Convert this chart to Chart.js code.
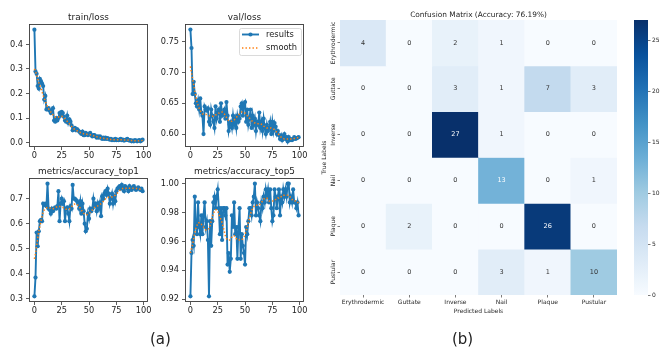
<!DOCTYPE html>
<html><head><meta charset="utf-8">
<script src="https://cdn.jsdelivr.net/npm/chart.js@4.4.0/dist/chart.umd.min.js"></script>
<style>
html,body{margin:0;padding:0;background:#fff;}
#wrap{position:relative;width:662px;height:349px;overflow:hidden;background:#fff;}
canvas{position:absolute;}
.cap{position:absolute;font-family:"DejaVu Sans";font-size:15px;color:#222;line-height:1;}
</style></head><body><div id="wrap">
<canvas id="c1"></canvas><canvas id="c2"></canvas><canvas id="c3"></canvas><canvas id="c4"></canvas>
<canvas id="cm"></canvas><canvas id="cb"></canvas>
<div class="cap" style="left:150px;top:332px">(a)</div>
<div class="cap" style="left:452px;top:332px">(b)</div>
</div>
<script>
// ---------------- data ----------------
const epochs = Array.from({length:100},(_,i)=>i);
const xTickLabels = ['0','25','50','75','100'];

const trainLoss = [0.46,0.29,0.28,0.23,0.22,0.26,0.25,0.24,0.23,0.175,
0.19,0.135,0.135,0.14,0.13,0.12,0.13,0.14,0.09,0.085,
0.10,0.09,0.10,0.12,0.11,0.125,0.12,0.105,0.09,0.085,
0.11,0.08,0.095,0.085,0.07,0.05,0.055,0.06,0.05,0.055,
0.05,0.045,0.04,0.035,0.045,0.03,0.03,0.04,0.035,0.03,
0.035,0.04,0.03,0.025,0.03,0.03,0.025,0.02,0.025,0.02,
0.025,0.02,0.015,0.02,0.015,0.02,0.015,0.018,0.015,0.012,
0.015,0.01,0.012,0.01,0.015,0.01,0.012,0.01,0.012,0.015,
0.01,0.012,0.008,0.01,0.012,0.015,0.01,0.008,0.01,0.005,
0.008,0.005,0.01,0.008,0.005,0.008,0.01,0.005,0.008,0.012];
const trainLossSmooth = [0.30,0.29,0.275,0.26,0.245,0.232,0.22,0.207,0.193,0.18,
0.167,0.156,0.146,0.138,0.131,0.125,0.119,0.113,0.108,0.104,
0.102,0.102,0.104,0.106,0.107,0.107,0.105,0.101,0.097,0.092,
0.087,0.082,0.077,0.071,0.066,0.061,0.057,0.054,0.051,0.048,
0.046,0.043,0.041,0.039,0.037,0.036,0.035,0.034,0.034,0.033,
0.033,0.032,0.031,0.029,0.028,0.027,0.025,0.024,0.022,0.021,
0.020,0.019,0.018,0.018,0.017,0.017,0.016,0.015,0.014,0.013,
0.013,0.012,0.012,0.012,0.012,0.012,0.012,0.012,0.012,0.012,
0.012,0.011,0.011,0.011,0.011,0.011,0.010,0.009,0.008,0.008,
0.007,0.007,0.007,0.007,0.007,0.007,0.008,0.008,0.008,0.009];
const trainLossTicks = ['0.0','0.1','0.2','0.3','0.4'];

const valLoss = [0.770,0.740,0.665,0.685,0.665,0.650,0.645,0.655,0.640,0.658,
0.635,0.630,0.600,0.645,0.640,0.638,0.642,0.620,0.615,0.640,
0.630,0.620,0.610,0.645,0.625,0.635,0.640,0.620,0.650,0.630,
0.635,0.640,0.625,0.652,0.630,0.605,0.615,0.620,0.610,0.630,
0.615,0.625,0.610,0.630,0.620,0.625,0.645,0.650,0.630,0.648,
0.652,0.620,0.640,0.615,0.625,0.640,0.610,0.630,0.615,0.625,
0.605,0.620,0.615,0.635,0.610,0.620,0.605,0.625,0.610,0.600,
0.615,0.605,0.610,0.620,0.600,0.620,0.605,0.618,0.612,0.600,
0.605,0.598,0.592,0.598,0.590,0.595,0.600,0.592,0.595,0.588,
0.595,0.590,0.592,0.590,0.592,0.595,0.592,0.593,0.594,0.595];
const valLossSmooth = [0.710,0.700,0.690,0.680,0.670,0.661,0.653,0.647,0.642,0.638,
0.635,0.633,0.632,0.632,0.632,0.632,0.631,0.630,0.629,0.629,
0.629,0.629,0.630,0.631,0.632,0.633,0.634,0.635,0.636,0.636,
0.635,0.633,0.630,0.627,0.624,0.622,0.621,0.621,0.621,0.622,
0.623,0.625,0.627,0.629,0.631,0.633,0.635,0.636,0.636,0.635,
0.634,0.632,0.630,0.628,0.626,0.624,0.622,0.620,0.619,0.618,
0.617,0.617,0.617,0.617,0.617,0.616,0.615,0.613,0.612,0.611,
0.610,0.610,0.610,0.610,0.610,0.609,0.608,0.607,0.605,0.603,
0.601,0.599,0.597,0.595,0.594,0.593,0.592,0.592,0.592,0.592,
0.592,0.592,0.592,0.592,0.592,0.593,0.593,0.594,0.594,0.595];
const valLossTicks = ['0.60','0.65','0.70','0.75'];

const top1 = [0.31,0.385,0.565,0.51,0.57,0.61,0.615,0.61,0.68,0.675,
0.68,0.67,0.76,0.66,0.655,0.64,0.66,0.65,0.66,0.665,
0.66,0.67,0.73,0.61,0.68,0.70,0.68,0.69,0.61,0.66,
0.665,0.64,0.61,0.67,0.66,0.755,0.70,0.70,0.695,0.69,
0.68,0.66,0.69,0.64,0.68,0.65,0.60,0.57,0.58,0.64,
0.62,0.66,0.65,0.66,0.70,0.67,0.68,0.65,0.68,0.66,
0.685,0.63,0.71,0.70,0.72,0.73,0.715,0.74,0.72,0.68,
0.70,0.72,0.68,0.71,0.69,0.73,0.74,0.745,0.75,0.74,
0.755,0.74,0.73,0.75,0.745,0.74,0.73,0.75,0.74,0.735,
0.745,0.75,0.74,0.735,0.74,0.745,0.74,0.735,0.74,0.73];
const top1Smooth = [0.46,0.48,0.51,0.54,0.57,0.59,0.61,0.63,0.645,0.655,
0.66,0.663,0.665,0.665,0.663,0.661,0.66,0.66,0.661,0.663,
0.666,0.668,0.669,0.669,0.668,0.667,0.665,0.662,0.66,0.658,
0.657,0.657,0.659,0.663,0.668,0.673,0.677,0.679,0.679,0.677,
0.673,0.668,0.662,0.655,0.648,0.642,0.638,0.636,0.636,0.638,
0.641,0.645,0.65,0.655,0.66,0.664,0.667,0.669,0.671,0.673,
0.676,0.68,0.684,0.689,0.694,0.699,0.703,0.705,0.706,0.706,
0.706,0.707,0.708,0.71,0.714,0.718,0.723,0.728,0.733,0.737,
0.74,0.741,0.742,0.742,0.742,0.742,0.742,0.742,0.742,0.742,
0.742,0.741,0.741,0.741,0.741,0.74,0.739,0.738,0.737,0.737];
const top1Ticks = ['0.3','0.4','0.5','0.6','0.7'];

const top5 = [0.922,0.952,0.961,0.957,0.991,0.970,0.965,0.987,0.970,0.965,
0.978,0.965,0.978,0.987,0.970,0.974,0.961,0.922,0.974,0.957,
0.974,0.987,0.991,0.983,0.991,0.996,0.983,0.965,0.983,0.961,
0.983,0.983,0.978,0.983,0.944,0.952,0.939,0.948,0.978,0.970,
0.987,0.965,0.970,0.948,0.970,0.983,0.948,0.965,0.957,0.952,
0.944,0.970,0.965,0.974,0.983,0.983,0.978,0.987,0.991,1.000,
0.978,0.987,0.983,0.978,0.974,0.987,0.983,0.991,0.987,0.996,
0.991,0.996,0.987,0.996,0.983,0.974,0.978,0.996,0.991,0.983,
0.991,0.996,0.978,0.991,0.987,0.996,0.991,0.996,0.991,1.000,
1.000,0.987,0.991,0.987,0.996,0.987,0.987,0.983,0.987,0.978];
const top5Smooth = [0.952,0.955,0.958,0.962,0.966,0.969,0.971,0.973,0.973,0.973,
0.972,0.971,0.970,0.969,0.968,0.968,0.968,0.969,0.971,0.974,
0.977,0.979,0.981,0.982,0.982,0.981,0.979,0.977,0.975,0.973,
0.970,0.967,0.964,0.962,0.961,0.961,0.961,0.962,0.963,0.964,
0.964,0.963,0.962,0.961,0.961,0.961,0.961,0.961,0.962,0.963,
0.965,0.967,0.970,0.973,0.976,0.979,0.981,0.983,0.984,0.985,
0.985,0.985,0.985,0.985,0.986,0.987,0.988,0.989,0.990,0.990,
0.990,0.989,0.988,0.988,0.988,0.988,0.988,0.988,0.989,0.989,
0.990,0.990,0.991,0.991,0.992,0.992,0.992,0.992,0.992,0.992,
0.991,0.991,0.990,0.989,0.989,0.988,0.988,0.987,0.987,0.987];
const top5Ticks = ['0.92','0.94','0.96','0.98','1.00'];

const predLabels = ['Erythrodermic','Guttate','Inverse','Nail','Plaque','Pustular'];
const trueLabels = ['Erythrodermic','Guttate','Inverse','Nail','Plaque','Pustular'];
const rowErythrodermic = [4,0,2,1,0,0];
const rowGuttate       = [0,0,3,1,7,3];
const rowInverse       = [0,0,27,1,0,0];
const rowNail          = [0,0,0,13,0,1];
const rowPlaque        = [0,2,0,0,26,0];
const rowPustular      = [0,0,0,3,1,10];
const cmRows = [rowErythrodermic,rowGuttate,rowInverse,rowNail,rowPlaque,rowPustular];
const colorbarTicks = ['0','5','10','15','20','25'];
const cmMax = 27;

// ---------------- helpers ----------------
const FONT = 'DejaVu Sans';
const BLUES = ['#f7fbff','#deebf7','#c6dbef','#9ecae1','#6baed6','#4292c6','#2171b5','#08519c','#08306b'];
function hex2rgb(h){return [parseInt(h.slice(1,3),16),parseInt(h.slice(3,5),16),parseInt(h.slice(5,7),16)];}
function bluesRGB(t){
  t=Math.max(0,Math.min(1,t));
  const p=t*(BLUES.length-1); const i=Math.min(Math.floor(p),BLUES.length-2); const f=p-i;
  const a=hex2rgb(BLUES[i]), b=hex2rgb(BLUES[i+1]);
  return a.map((v,k)=>Math.round(v+(b[k]-v)*f));
}
function rgbStr(c){return 'rgb('+c[0]+','+c[1]+','+c[2]+')';}
function relLum(c){
  const l=c.map(v=>{v/=255;return v<=0.03928?v/12.92:Math.pow((v+0.055)/1.055,2.4);});
  return 0.2126*l[0]+0.7152*l[1]+0.0722*l[2];
}

const framePlugin={id:'frame',afterDraw(c){const a=c.chartArea,x=c.ctx;x.save();x.strokeStyle='#3a3a3a';x.lineWidth=0.9;
  x.strokeRect(Math.round(a.left)+0.5,Math.round(a.top)+0.5,Math.round(a.right-a.left)-1,Math.round(a.bottom-a.top)-1);x.restore();}};
function titlePlugin(txt){return {id:'ptitle',afterDraw(c){const a=c.chartArea,x=c.ctx;x.save();x.fillStyle='#222';
  x.font='8.9px "'+FONT+'"';x.textAlign='center';x.textBaseline='alphabetic';x.fillText(txt,(a.left+a.right)/2,a.top-4.5);x.restore();}};}
const legendPlugin={id:'plegend',afterDraw(c){const a=c.chartArea,x=c.ctx;x.save();
  const w=62,h=27,L=a.right-3-w,T=a.top+4;
  x.fillStyle='rgba(255,255,255,0.85)';x.strokeStyle='#d0d0d0';x.lineWidth=0.8;
  x.beginPath();x.roundRect(L+0.5,T+0.5,w,h,2);x.fill();x.stroke();
  const ds=c.data.datasets;
  let y=T+6.5;
  x.strokeStyle=ds[1].borderColor;x.lineWidth=1.9;x.beginPath();x.moveTo(L+3,y);x.lineTo(L+20,y);x.stroke();
  x.fillStyle=ds[1].borderColor;x.beginPath();x.arc(L+11.5,y,2.1,0,Math.PI*2);x.fill();
  x.fillStyle='#222';x.font='8.3px "'+FONT+'"';x.textBaseline='middle';x.fillText(ds[1].label,L+27,y);
  y=T+20;
  x.strokeStyle=ds[0].borderColor;x.lineWidth=1.5;x.setLineDash(ds[0].borderDash);x.beginPath();x.moveTo(L+3,y);x.lineTo(L+20,y);x.stroke();x.setLineDash([]);
  x.fillStyle='#222';x.fillText(ds[0].label,L+27,y);
  x.restore();}};

function lineChart(id, frame, title, yTicks, yMin, yMax, results, smooth, withLegend){
  const padL=40,padT=22,padR=14,padB=24;
  const cv=document.getElementById(id);
  const w=frame.R-frame.L+padL+padR, h=frame.B-frame.T+padT+padB;
  cv.width=w;cv.height=h;cv.style.width=w+'px';cv.style.height=h+'px';
  cv.style.left=(frame.L-padL)+'px';cv.style.top=(frame.T-padT)+'px';
  const plugins=[framePlugin,titlePlugin(title)];
  if(withLegend) plugins.push(legendPlugin);
  new Chart(cv,{type:'line',
    data:{datasets:[
      {label:'smooth',data:smooth.map((v,i)=>({x:epochs[i],y:v})),borderColor:'#ff7f0e',borderWidth:1.5,borderDash:[1.4,2.1],pointRadius:0,fill:false,order:0},
      {label:'results',data:results.map((v,i)=>({x:epochs[i],y:v})),borderColor:'#1f77b4',backgroundColor:'#1f77b4',borderWidth:1.9,pointRadius:2.1,pointBorderWidth:0,pointHoverRadius:0,fill:false,order:1}
    ]},
    options:{responsive:false,animation:false,devicePixelRatio:1,events:[],
      layout:{padding:{left:0,top:padT,right:padR,bottom:0}},
      plugins:{legend:{display:false},tooltip:{enabled:false},title:{display:false}},
      scales:{
        x:{type:'linear',min:-4.95,max:103.95,
          afterFit:s=>{s.height=padB;},
          afterBuildTicks:s=>{s.ticks=xTickLabels.map(t=>({value:parseFloat(t)}));},
          grid:{drawOnChartArea:false,drawTicks:true,tickLength:3,color:'#333',lineWidth:0.8},
          border:{display:false},
          ticks:{autoSkip:false,maxRotation:0,padding:0.5,color:'#222',font:{family:FONT,size:8.2},callback:(v,i)=>xTickLabels[i]}},
        y:{type:'linear',min:yMin,max:yMax,
          afterFit:s=>{s.width=padL;},
          afterBuildTicks:s=>{s.ticks=yTicks.map(t=>({value:parseFloat(t)}));},
          grid:{drawOnChartArea:false,drawTicks:true,tickLength:3,color:'#333',lineWidth:0.8},
          border:{display:false},
          ticks:{autoSkip:false,padding:3,color:'#222',font:{family:FONT,size:8.2},callback:(v,i)=>yTicks[i]}}
      }},
    plugins});
}

lineChart('c1',{L:29,T:24,R:148,B:147},'train/loss',trainLossTicks,-0.018,0.483,trainLoss,trainLossSmooth,false);
lineChart('c2',{L:185,T:24,R:304,B:147},'val/loss',valLossTicks,0.579,0.779,valLoss,valLossSmooth,true);
lineChart('c3',{L:29,T:178,R:148,B:302},'metrics/accuracy_top1',top1Ticks,0.2875,0.7825,top1,top1Smooth,false);
lineChart('c4',{L:185,T:178,R:304,B:302},'metrics/accuracy_top5',top5Ticks,0.9181,1.0039,top5,top5Smooth,false);

// ---------------- confusion matrix ----------------
(function(){
  const cv=document.getElementById('cm');
  const left=300,top=0,w=322,h=330,padT=20,padR=5,yW=40,xH=35;
  cv.width=w;cv.height=h;cv.style.width=w+'px';cv.style.height=h+'px';cv.style.left=left+'px';cv.style.top=top+'px';
  const datasets=cmRows.map((row,r)=>({
    label:trueLabels[r],
    data:row.map(()=>[r,r+1]),
    values:row,
    backgroundColor:row.map(v=>rgbStr(bluesRGB(v/cmMax))),
    borderWidth:0,grouped:false,categoryPercentage:1,barPercentage:1
  }));
  const annot={id:'annot',afterDatasetsDraw(c){const x=c.ctx;x.save();x.font='6.5px "'+FONT+'"';x.textAlign='center';x.textBaseline='middle';
    c.data.datasets.forEach((ds,di)=>{c.getDatasetMeta(di).data.forEach((el,j)=>{
      const v=ds.values[j];const col=bluesRGB(v/cmMax);
      x.fillStyle=relLum(col)>0.408?'#333333':'#ffffff';
      x.fillText(String(v),el.x,(el.y+el.base)/2);});});
    x.restore();}};
  const labelsPlugin={id:'cmlabels',afterDraw(c){const a=c.chartArea,x=c.ctx,ys=c.scales.y;x.save();x.fillStyle='#262626';
    x.font='7.4px "'+FONT+'"';x.textAlign='center';x.textBaseline='alphabetic';
    x.fillText('Confusion Matrix (Accuracy: 76.19%)',(a.left+a.right)/2,16.5);
    x.font='6px "'+FONT+'"';
    trueLabels.forEach((t,i)=>{x.save();x.translate(a.left-7,ys.getPixelForValue(i+0.5));x.rotate(-Math.PI/2);x.textAlign='center';x.textBaseline='middle';x.fillText(t,0,0);x.restore();});
    x.save();x.translate(a.left-15.5,(a.top+a.bottom)/2);x.rotate(-Math.PI/2);x.textAlign='center';x.textBaseline='middle';x.fillText('True Labels',0,0);x.restore();
    x.textAlign='center';x.textBaseline='middle';x.fillText('Predicted Labels',(a.left+a.right)/2,a.bottom+16);
    x.restore();}};
  new Chart(cv,{type:'bar',data:{labels:predLabels,datasets},
    options:{responsive:false,animation:false,devicePixelRatio:1,events:[],
      layout:{padding:{left:0,top:padT,right:padR,bottom:0}},
      plugins:{legend:{display:false},tooltip:{enabled:false}},
      scales:{
        x:{type:'category',afterFit:s=>{s.height=xH;},
          grid:{drawOnChartArea:false,drawTicks:true,tickLength:2.5,color:'#444',lineWidth:0.7,offset:false},
          border:{display:false},
          ticks:{autoSkip:false,maxRotation:0,minRotation:0,padding:1,color:'#262626',font:{family:FONT,size:6}}},
        y:{type:'linear',min:0,max:trueLabels.length,reverse:true,afterFit:s=>{s.width=yW;},
          afterBuildTicks:s=>{s.ticks=trueLabels.map((t,i)=>({value:i+0.5}));},
          grid:{drawOnChartArea:false,drawTicks:true,tickLength:2.5,color:'#444',lineWidth:0.7},
          border:{display:false},
          ticks:{display:false}}
      }},
    plugins:[annot,labelsPlugin]});
})();

// ---------------- colorbar ----------------
(function(){
  const cv=document.getElementById('cb');
  const left=624,w=38,h=330;
  cv.width=w;cv.height=h;cv.style.width=w+'px';cv.style.height=h+'px';cv.style.left=left+'px';cv.style.top='0px';
  new Chart(cv,{type:'bar',data:{labels:[''],datasets:[{data:[[0,cmMax]],borderWidth:0,categoryPercentage:1,barPercentage:1,
      backgroundColor:(ctx)=>{const a=ctx.chart.chartArea;if(!a)return '#6baed6';
        const g=ctx.chart.ctx.createLinearGradient(0,a.bottom,0,a.top);
        BLUES.forEach((c,i)=>g.addColorStop(i/(BLUES.length-1),c));return g;}}]},
    options:{responsive:false,animation:false,devicePixelRatio:1,events:[],
      layout:{padding:{left:10,top:20,right:0,bottom:35}},
      plugins:{legend:{display:false},tooltip:{enabled:false}},
      scales:{
        x:{display:false},
        y:{type:'linear',position:'right',min:0,max:cmMax,afterFit:s=>{s.width=14;},
          afterBuildTicks:s=>{s.ticks=colorbarTicks.map(t=>({value:parseFloat(t)}));},
          grid:{drawOnChartArea:false,drawTicks:true,tickLength:2.5,color:'#444',lineWidth:0.7},
          border:{display:false},
          ticks:{autoSkip:false,padding:1.5,color:'#262626',font:{family:FONT,size:6},callback:(v,i)=>colorbarTicks[i]}}
      }}});
})();
</script></body></html>
